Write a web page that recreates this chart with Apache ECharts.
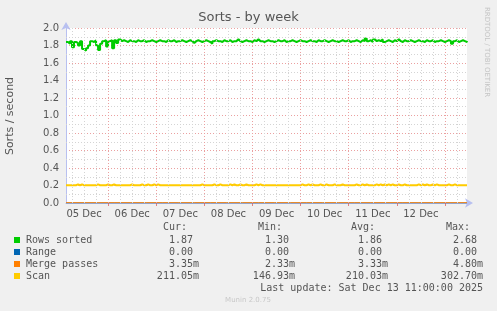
<!DOCTYPE html>
<html><head><meta charset="utf-8">
<script src="https://cdn.jsdelivr.net/npm/echarts@6/dist/echarts.min.js"></script>
<style>html,body{margin:0;padding:0;background:#f0f0f0}#c{width:497px;height:311px}</style>
</head><body><div id="c"></div>
<script>
// ---- data (x in hours since 05 Dec 00:00) ----
const startHour = 3;          // 05 Dec 03:00
const endHour = 203;          // 13 Dec 11:00
const stepHours = 1;
const dayLabels = ['05 Dec','06 Dec','07 Dec','08 Dec','09 Dec','10 Dec','11 Dec','12 Dec'];
const dayLabelHours = [12,36,60,84,108,132,156,180];
const midnightHours = [24,48,72,96,120,144,168,192];
const yMinorTicks = [0.1,0.3,0.5,0.7,0.9,1.1,1.3,1.5,1.7,1.9];

const rowsSorted = [
1.84,1.82,1.85,1.78,1.84,1.83,1.80,1.85,1.76,1.74,
1.77,1.80,1.85,1.84,1.86,1.80,1.75,1.82,1.85,1.86,
1.79,1.85,1.86,1.77,1.86,1.83,1.87,1.85,1.86,1.85,
1.84,1.86,1.85,1.85,1.84,1.86,1.85,1.85,1.86,1.84,
1.85,1.85,1.86,1.85,1.84,1.85,1.86,1.85,1.85,1.84,
1.86,1.85,1.85,1.86,1.84,1.85,1.85,1.86,1.85,1.84,
1.85,1.86,1.85,1.83,1.85,1.86,1.85,1.84,1.85,1.86,
1.85,1.84,1.82,1.85,1.86,1.85,1.85,1.84,1.86,1.85,
1.85,1.86,1.84,1.85,1.85,1.87,1.85,1.84,1.85,1.86,
1.85,1.85,1.84,1.86,1.85,1.87,1.85,1.85,1.84,1.85,
1.86,1.85,1.85,1.84,1.85,1.86,1.85,1.85,1.86,1.84,
1.85,1.85,1.86,1.85,1.84,1.85,1.86,1.85,1.85,1.84,
1.85,1.86,1.85,1.85,1.84,1.86,1.85,1.85,1.86,1.85,
1.84,1.85,1.86,1.85,1.85,1.84,1.85,1.86,1.85,1.85,
1.86,1.84,1.85,1.85,1.86,1.85,1.84,1.86,1.85,1.88,
1.85,1.86,1.84,1.87,1.85,1.86,1.85,1.87,1.84,1.85,
1.86,1.85,1.84,1.86,1.85,1.87,1.85,1.84,1.86,1.85,
1.85,1.86,1.85,1.84,1.85,1.86,1.85,1.85,1.84,1.86,
1.85,1.85,1.86,1.84,1.85,1.85,1.86,1.85,1.84,1.85,
1.86,1.85,1.82,1.85,1.86,1.84,1.85,1.86,1.85,1.84,1.85
];
const scan = [
0.203,0.203,0.203,0.203,0.203,0.213,0.203,0.213,0.203,0.203,
0.203,0.203,0.203,0.203,0.203,0.213,0.203,0.203,0.203,0.203,
0.213,0.203,0.203,0.213,0.203,0.203,0.203,0.203,0.203,0.203,
0.203,0.203,0.213,0.203,0.203,0.203,0.203,0.213,0.203,0.203,
0.213,0.203,0.203,0.213,0.203,0.213,0.203,0.203,0.203,0.203,
0.203,0.203,0.203,0.203,0.203,0.203,0.203,0.203,0.203,0.203,
0.203,0.203,0.203,0.203,0.203,0.203,0.203,0.213,0.203,0.203,
0.203,0.203,0.203,0.213,0.203,0.203,0.213,0.203,0.203,0.203,
0.203,0.213,0.203,0.213,0.203,0.203,0.213,0.203,0.203,0.213,
0.203,0.203,0.203,0.203,0.213,0.203,0.213,0.203,0.203,0.203,
0.203,0.203,0.203,0.203,0.203,0.203,0.203,0.203,0.203,0.203,
0.203,0.203,0.203,0.203,0.203,0.203,0.203,0.213,0.203,0.203,
0.213,0.203,0.213,0.203,0.203,0.203,0.213,0.203,0.203,0.213,
0.203,0.203,0.203,0.213,0.203,0.203,0.203,0.213,0.203,0.203,
0.203,0.203,0.203,0.203,0.213,0.203,0.203,0.213,0.203,0.213,
0.203,0.203,0.203,0.203,0.213,0.203,0.213,0.203,0.213,0.203,
0.213,0.203,0.213,0.203,0.203,0.213,0.203,0.203,0.213,0.203,
0.203,0.203,0.203,0.203,0.203,0.213,0.203,0.213,0.203,0.213,
0.203,0.203,0.213,0.203,0.213,0.203,0.203,0.203,0.203,0.203,
0.213,0.203,0.203,0.213,0.203,0.203,0.203,0.203,0.203,0.203,0.203
];
const coarseStepHours = 8;
const mergePasses = [0.0034,0.0033,0.0032,0.0034,0.0033,0.0033,0.0034,0.0032,0.0033,0.0034,0.0033,0.0033,0.0032,0.0034,0.0033,0.0033,0.0034,0.0033,0.0032,0.0033,0.0034,0.0033,0.0033,0.0034,0.0033,0.0034];
const rangeVals = [0,0,0,0,0,0,0,0,0,0,0,0,0,0,0,0,0,0,0,0,0,0,0,0,0,0];

const legendNames = ['Rows sorted','Range','Merge passes','Scan'];
const legendColors = ['#00CC00','#0066B3','#FF8000','#FFCC00'];
const curVals = ['1.87 ','0.00 ','3.35m','211.05m'];
const minVals = ['1.30 ','0.00 ','2.33m','146.93m'];
const avgVals = ['1.86 ','0.00 ','3.33m','210.03m'];
const maxVals = ['2.68 ','0.00 ','4.80m','302.70m'];
const lastUpdate = 'Last update: Sat Dec 13 11:00:00 2025';

// ---- build ----
function pairs(vals, step){ return vals.map((v,i)=>[Math.min(startHour+i*step,endHour), v]); }
const minorHours = [];
for (let h = 6; h < endHour; h += 6) if (h % 24 !== 0) minorHours.push(h);

const gridLeft = 66, gridTop = 28, gridRight = 30, gridBottom = 108;
const chart = echarts.init(document.getElementById('c'), null, {renderer:'canvas'});
const txt = '#555';
const font = 'DejaVu Sans';

const graphic = [];
graphic.push({type:'text', left:'center', top:11, style:{text:'Sorts - by week', fill:'#555', font:'13px "DejaVu Sans"'}});
graphic.push({type:'text', x:10, y:116, rotation:Math.PI/2, style:{text:'Sorts / second', fill:'#555', font:'11px "DejaVu Sans"', align:'center', verticalAlign:'middle'}});
graphic.push({type:'text', x:487, y:52, rotation:-Math.PI/2, style:{text:'RRDTOOL / TOBI OETIKER', fill:'#c4c4c4', font:'7px "DejaVu Sans"', align:'center', verticalAlign:'middle'}});
const rowY = [240,252,264,276];
const headers = [['Cur:',187],['Min:',282],['Avg:',375],['Max:',470]];
headers.forEach(h=>graphic.push({type:'text', x:h[1], y:227, style:{text:h[0], fill:txt, font:'10px "DejaVu Sans Mono"', align:'right', verticalAlign:'middle'}}));
legendNames.forEach((n,i)=>{
  graphic.push({type:'rect', shape:{x:14,y:rowY[i]-3,width:6,height:6}, style:{fill:legendColors[i]}});
  graphic.push({type:'text', x:26, y:rowY[i], style:{text:n, fill:txt, font:'10px "DejaVu Sans Mono"', verticalAlign:'middle'}});
  [[curVals,199],[minVals,295],[avgVals,388],[maxVals,483]].forEach(c=>{
    graphic.push({type:'text', x:c[1], y:rowY[i], style:{text:c[0][i], fill:txt, font:'10px "DejaVu Sans Mono"', align:'right', verticalAlign:'middle'}});
  });
});
graphic.push({type:'text', x:483, y:288, style:{text:lastUpdate, fill:txt, font:'10px "DejaVu Sans Mono"', align:'right', verticalAlign:'middle'}});
graphic.push({type:'text', x:248, y:300, style:{text:'Munin 2.0.75', fill:'#c8c8c8', font:'7px "DejaVu Sans"', align:'center', verticalAlign:'middle'}});

const gridLines = minorHours.map(h=>({xAxis:h, lineStyle:{color:'#d4d4d4', type:[1,2], width:1}}))
  .concat(yMinorTicks.map(v=>({yAxis:v, lineStyle:{color:'#d4d4d4', type:[1,2], width:1}})))
  .concat(midnightHours.map(h=>({xAxis:h, lineStyle:{color:'#eba0a0', type:[1,2], width:1}})));

chart.setOption({
  backgroundColor:'#f0f0f0',
  animation:false,
  grid:{left:gridLeft, top:gridTop, right:gridRight, bottom:gridBottom, show:true, backgroundColor:'#ffffff', borderWidth:0},
  xAxis:{type:'value', min:startHour, max:endHour,
    splitLine:{show:false},
    axisLine:{show:true, lineStyle:{color:'#b8c0f0', width:1}, symbol:['none','arrow'], symbolSize:[7,8], symbolOffset:[0,6]},
    axisTick:{show:true, customValues:midnightHours, length:3, lineStyle:{color:'#e08080'}},
    axisLabel:{customValues:dayLabelHours, formatter:v=>dayLabels[dayLabelHours.indexOf(v)] || '', color:txt, fontFamily:font, fontSize:10, margin:6}
  },
  yAxis:{type:'value', min:0, max:2, interval:0.2,
    axisLine:{show:true, lineStyle:{color:'#b8c0f0', width:1}, symbol:['none','arrow'], symbolSize:[7,8], symbolOffset:[0,6]},
    axisTick:{show:false},
    axisLabel:{formatter:v=>v.toFixed(1), color:txt, fontFamily:font, fontSize:10, margin:7},
    splitLine:{show:true, lineStyle:{color:'#eba0a0', type:[1,2], width:1}},
    minorSplitLine:{show:false}
  },
  graphic:graphic,
  series:[
    {type:'line', data:[], silent:true, z:1, markLine:{silent:true, symbol:'none', label:{show:false}, data:gridLines, animation:false}},
    {name:'Rows sorted', type:'line', data:pairs(rowsSorted, stepHours), showSymbol:false, step:'end', lineStyle:{color:legendColors[0], width:2}, z:3},
    {name:'Range', type:'line', data:pairs(rangeVals, coarseStepHours), showSymbol:false, lineStyle:{color:legendColors[1], width:1}, z:3},
    {name:'Merge passes', type:'line', data:pairs(mergePasses, coarseStepHours), showSymbol:false, lineStyle:{color:legendColors[2], width:1}, z:3},
    {name:'Scan', type:'line', data:pairs(scan, stepHours), showSymbol:false, step:'end', lineStyle:{color:legendColors[3], width:2}, z:3}
  ]
});
</script></body></html>
